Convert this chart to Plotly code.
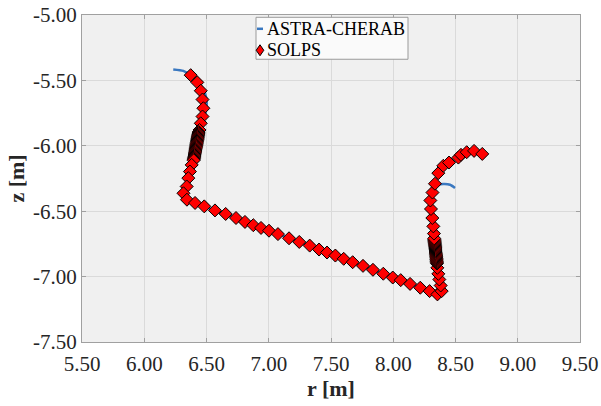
import plotly.graph_objects as go

# ASTRA-CHERAB curve
astra_r = [6.233, 6.314, 6.384, 6.448, 6.488, 6.502, 6.488, 6.448, 6.420, 6.390, 6.350, 6.315,
           6.343, 6.480, 6.740, 7.000, 7.330, 7.600, 7.920, 8.220, 8.355, 8.389, 8.360, 8.330,
           8.310, 8.300, 8.315, 8.335, 8.400, 8.456, 8.496]
astra_z = [-5.416, -5.427, -5.467, -5.528, -5.597, -5.675, -5.765, -5.879, -6.000, -6.120, -6.280, -6.363,
           -6.412, -6.463, -6.552, -6.649, -6.763, -6.864, -6.978, -7.085, -7.136, -7.111, -6.960, -6.700,
           -6.500, -6.420, -6.357, -6.305, -6.293, -6.298, -6.323]

# SOLPS points
solps_r = [6.373, 6.426, 6.454, 6.468, 6.475, 6.468, 6.454, 6.444,
           6.437, 6.436, 6.434, 6.433, 6.431, 6.430, 6.428, 6.427, 6.425, 6.424, 6.422, 6.421, 6.419, 6.418,
           6.416, 6.415, 6.413, 6.412, 6.410, 6.409, 6.407, 6.406, 6.404, 6.403, 6.401, 6.400, 6.398, 6.397,
           6.381, 6.367, 6.354, 6.341, 6.315,
           6.343, 6.408, 6.482, 6.568, 6.654, 6.737, 6.809, 6.876, 6.938, 7.002, 7.074, 7.163, 7.245,
           7.329, 7.404, 7.468, 7.535, 7.602, 7.674, 7.757, 7.837, 7.920, 7.996, 8.060, 8.135, 8.217,
           8.292, 8.355,
           8.389, 8.381, 8.370, 8.362, 8.354,
           8.351, 8.350, 8.349, 8.348, 8.347, 8.347, 8.346, 8.345, 8.344, 8.343, 8.342, 8.341, 8.340,
           8.339, 8.338, 8.338, 8.337, 8.336, 8.335, 8.334, 8.333, 8.332, 8.331, 8.330, 8.329,
           8.327, 8.322, 8.314, 8.303, 8.298, 8.315, 8.335, 8.362, 8.402, 8.448, 8.523, 8.544, 8.590,
           8.649, 8.715]
solps_z = [-5.460, -5.515, -5.579, -5.646, -5.713, -5.776, -5.828, -5.879,
           -5.895, -5.903, -5.911, -5.919, -5.927, -5.935, -5.943, -5.951, -5.959, -5.967, -5.975, -5.983, -5.991, -5.999,
           -6.007, -6.015, -6.023, -6.031, -6.039, -6.047, -6.055, -6.063, -6.071, -6.079, -6.087, -6.095, -6.103, -6.111,
           -6.146, -6.197, -6.247, -6.311, -6.363,
           -6.412, -6.437, -6.463, -6.494, -6.521, -6.552, -6.582, -6.607, -6.628, -6.649, -6.675, -6.707, -6.735,
           -6.763, -6.793, -6.816, -6.839, -6.864, -6.890, -6.918, -6.948, -6.978, -7.007, -7.027, -7.056, -7.085,
           -7.111, -7.136,
           -7.111, -7.068, -7.022, -6.979, -6.933,
           -6.900, -6.892, -6.884, -6.876, -6.868, -6.860, -6.852, -6.844, -6.836, -6.828, -6.820, -6.812, -6.804,
           -6.796, -6.788, -6.780, -6.772, -6.764, -6.756, -6.748, -6.740, -6.732, -6.724, -6.716, -6.708,
           -6.671, -6.616, -6.552, -6.483, -6.418, -6.357, -6.290, -6.209, -6.153, -6.128, -6.090, -6.069, -6.049,
           -6.039, -6.062]

x_ticks = [5.5, 6.0, 6.5, 7.0, 7.5, 8.0, 8.5, 9.0, 9.5]
y_ticks = [-7.5, -7.0, -6.5, -6.0, -5.5, -5.0]
legend_names = ["ASTRA-CHERAB", "SOLPS"]

font_family = "Liberation Serif"
line_color = "#3a78c0"

fig = go.Figure()
fig.add_trace(go.Scatter(
    x=astra_r, y=astra_z, mode="lines", name=legend_names[0], showlegend=False,
    line=dict(color=line_color, width=2.5, shape="spline", smoothing=0.6),
))
fig.add_trace(go.Scatter(
    x=solps_r, y=solps_z, mode="markers", name=legend_names[1], showlegend=False,
    marker=dict(symbol="diamond", size=10, color="#ff0000",
                line=dict(color="black", width=1)),
))

# compact legend drawn in paper coordinates (plot area: x 82..580 px, y 15..342 px)
L, R, T, B = 82.0, 580.0, 14.7, 342.0
def px(x):
    return (x - L) / (R - L)
def py(y):
    return (B - y) / (B - T)

shapes = [
    dict(type="rect", xref="paper", yref="paper", x0=px(256), x1=px(408), y0=py(59), y1=py(17),
         fillcolor="#fafafa", line=dict(color="#9a9a9a", width=1), layer="above"),
    dict(type="line", xref="paper", yref="paper", x0=px(257), x1=px(263), y0=py(28.5), y1=py(28.5),
         line=dict(color=line_color, width=2.5), layer="above"),
    dict(type="path", xref="paper", yref="paper",
         path=f"M {px(260)},{py(44.5)} L {px(263.8)},{py(50)} L {px(260)},{py(55.5)} L {px(256.2)},{py(50)} Z",
         fillcolor="#ff0000", line=dict(color="black", width=1), layer="above"),
]
annotations = [
    dict(text=legend_names[0], xref="paper", yref="paper", x=px(264.5), y=py(28.5),
         xanchor="left", yanchor="middle", showarrow=False,
         font=dict(family=font_family, size=18, color="black")),
    dict(text=legend_names[1], xref="paper", yref="paper", x=px(264.5), y=py(50),
         xanchor="left", yanchor="middle", showarrow=False,
         font=dict(family=font_family, size=18, color="black")),
]

axis_common = dict(
    showgrid=True, gridcolor="#dadada", gridwidth=1,
    showline=True, linecolor="#a0a0a0", linewidth=1, mirror="ticks",
    ticks="inside", ticklen=4, tickcolor="#a0a0a0",
    zeroline=False, automargin=False,
    tickfont=dict(family=font_family, size=21, color="#262626"),
)

fig.update_layout(
    width=601, height=406,
    margin=dict(l=82, r=21, t=15, b=64),
    paper_bgcolor="white", plot_bgcolor="#f0f0f0",
    font=dict(family=font_family, color="#262626"),
    showlegend=False,
    shapes=shapes,
    annotations=annotations,
    xaxis=dict(
        range=[5.5, 9.5], tickvals=x_ticks, ticktext=[f"{v:.2f}" for v in x_ticks],
        ticklabelstandoff=3,
        title=dict(text="<b>r [m]</b>", font=dict(family=font_family, size=22, color="#262626"), standoff=2),
        **axis_common,
    ),
    yaxis=dict(
        range=[-7.5, -5.0], tickvals=y_ticks, ticktext=[f"{v:.2f}" for v in y_ticks],
        title=dict(text="<b>z [m]</b>", font=dict(family=font_family, size=22, color="#262626"), standoff=2),
        **axis_common,
    ),
)

fig.write_html("out.html")
